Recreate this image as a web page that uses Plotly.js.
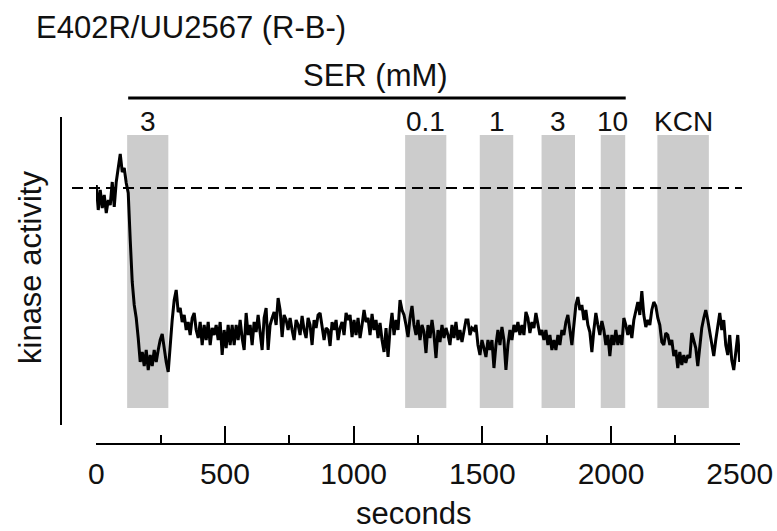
<!DOCTYPE html>
<html>
<head>
<meta charset="utf-8">
<script src="https://cdn.plot.ly/plotly-3.0.1.min.js"></script>
<style>
  html, body { margin: 0; padding: 0; background: #fff; }
  #chart { width: 777px; height: 531px; }
</style>
</head>
<body>
<div id="chart"></div>
<script>
// ---- data ----
const chartTitle = "E402R/UU2567 (R-B-)";
const sampleInterval = 7.764; // seconds between samples (trace starts at 0 s)
const kinaseActivity = [
  258,233,253,235,248,230,243,238,261,236,
  261,275,289,271,275,260,250,203,161,138,
  125,105,81,91,77,93,73,88,77,93,
  81,93,103,109,93,81,71,103,123,143,
  153,131,135,121,128,113,121,108,125,130,
  113,105,121,98,118,103,121,98,115,108,
  118,103,121,88,113,95,118,98,118,98,
  118,103,123,105,93,130,108,118,98,121,
  111,128,108,93,125,135,93,118,125,131,
  118,145,133,106,128,123,113,125,113,103,
  123,118,108,127,113,105,125,118,98,123,
  115,128,130,115,103,115,113,97,121,113,
  123,103,115,121,108,130,123,128,106,123,
  108,125,105,118,133,121,125,108,129,113,
  123,105,120,103,91,115,86,113,130,108,
  123,113,143,133,128,118,106,125,137,118,
  108,123,103,118,111,90,118,105,123,108,
  85,113,101,118,105,115,108,98,118,105,
  121,103,113,101,113,123,123,108,115,113,
  118,98,88,103,95,86,103,93,103,75,
  98,113,98,116,103,73,98,113,103,118,
  111,121,108,118,108,131,125,110,121,115,
  130,118,108,113,103,113,98,108,93,103,
  93,108,98,113,108,121,128,113,98,118,
  138,146,133,138,123,133,118,111,91,113,
  130,118,108,122,113,98,108,87,108,98,
  113,98,108,98,125,118,108,118,105,123,
  133,141,128,152,128,116,123,118,133,141,
  137,125,118,101,98,110,108,98,103,87,
  93,75,91,78,88,80,88,85,110,103,
  95,77,98,115,125,133,123,111,98,87,
  103,118,130,113,123,98,88,108,83,73,
  93,108,81
];
const baselineActivity = 255;
// treatment periods (seconds)
const periodLabels = ["3", "0.1", "1", "3", "10", "KCN"];
const periodStart  = [120, 1200, 1490, 1730, 1960, 2180];
const periodEnd    = [280, 1360, 1620, 1860, 2055, 2380];
const serStart = 124, serEnd = 2057;
const serLabel = "SER (mM)";
const xTickVals = [0, 500, 1000, 1500, 2000, 2500];
const xTickText = ["0", "500", "1000", "1500", "2000", "2500"];
const xMinorTicks = [250, 750, 1250, 1750, 2250];
const xLabel = "seconds";
const yLabel = "kinase activity";

// ---- build ----
const seconds = kinaseActivity.map((_, i) => i * sampleInterval);
const FONT = "Liberation Sans, Arial, sans-serif";
const INK = "#111111";
// plot area: x 96..740 px (0..2500 s), y 40..443 px
const L = 96, W = 644;
const px2paper = (px) => (px - L) / W;

const trace = {
  x: seconds, y: kinaseActivity, type: "scatter", mode: "lines",
  line: { color: "#000000", width: 3 }, hoverinfo: "skip", showlegend: false
};

const shapes = [];
periodStart.forEach((s, i) => {
  shapes.push({ type: "rect", xref: "x", yref: "y", x0: s, x1: periodEnd[i], y0: 35, y1: 308,
    fillcolor: "#cccccc", line: { width: 0 }, layer: "below" });
});
// baseline dashed line (extends a little beyond the data range)
shapes.push({ type: "line", xref: "paper", yref: "y", x0: px2paper(72), x1: px2paper(742),
  y0: baselineActivity, y1: baselineActivity,
  line: { color: "#000", width: 2, dash: "11px,6px" } });
// SER bar
shapes.push({ type: "line", xref: "x", yref: "y", x0: serStart, x1: serEnd, y0: 345, y1: 345,
  line: { color: "#000", width: 3 } });
// y axis line (detached, left of the data)
shapes.push({ type: "line", xref: "paper", yref: "y", x0: px2paper(61), x1: px2paper(61), y0: 18, y1: 326,
  line: { color: "#000", width: 2 } });

const annotations = [];
periodLabels.forEach((lab, i) => {
  annotations.push({ text: lab, x: (periodStart[i] + periodEnd[i]) / 2, y: 322, xref: "x", yref: "y",
    showarrow: false, xanchor: "center", yanchor: "middle", font: { family: FONT, size: 28, color: INK } });
});
annotations.push({ text: serLabel, x: 1083, y: 368, xref: "x", yref: "y", showarrow: false,
  xanchor: "center", yanchor: "middle", font: { family: FONT, size: 31, color: INK } });
annotations.push({ text: xLabel, x: 1234, y: (443 - 513) / 403, xref: "x", yref: "paper", showarrow: false,
  xanchor: "center", yanchor: "middle", font: { family: FONT, size: 31, color: INK } });
annotations.push({ text: yLabel, x: px2paper(30), y: (443 - 268) / 403, xref: "paper", yref: "paper", showarrow: false,
  textangle: -90, xanchor: "center", yanchor: "middle", font: { family: FONT, size: 31, color: INK } });

const layout = {
  width: 777, height: 531,
  margin: { l: L, r: 777 - L - W, t: 40, b: 88, pad: 0 },
  paper_bgcolor: "#ffffff", plot_bgcolor: "#ffffff",
  showlegend: false,
  title: { text: chartTitle, x: 36 / 777, xref: "container", xanchor: "left",
           y: 1 - 27 / 531, yref: "container", yanchor: "middle",
           font: { family: FONT, size: 31, color: INK } },
  xaxis: {
    range: [-1, 2501], showgrid: false, zeroline: false,
    showline: true, linecolor: "#000", linewidth: 2,
    tickmode: "array", tickvals: xTickVals, ticktext: xTickText,
    ticks: "inside", ticklen: 17, tickwidth: 2, tickcolor: "#000",
    ticklabelstandoff: 3,
    minor: { tickvals: xMinorTicks, ticks: "inside", ticklen: 8, tickwidth: 2, tickcolor: "#000", showgrid: false },
    tickfont: { family: FONT, size: 30, color: INK }
  },
  yaxis: {
    range: [0, 403], showgrid: false, zeroline: false, showline: false,
    showticklabels: false, ticks: ""
  },
  shapes: shapes,
  annotations: annotations
};

Plotly.newPlot("chart", [trace], layout, { displayModeBar: false, staticPlot: true });
</script>
</body>
</html>
